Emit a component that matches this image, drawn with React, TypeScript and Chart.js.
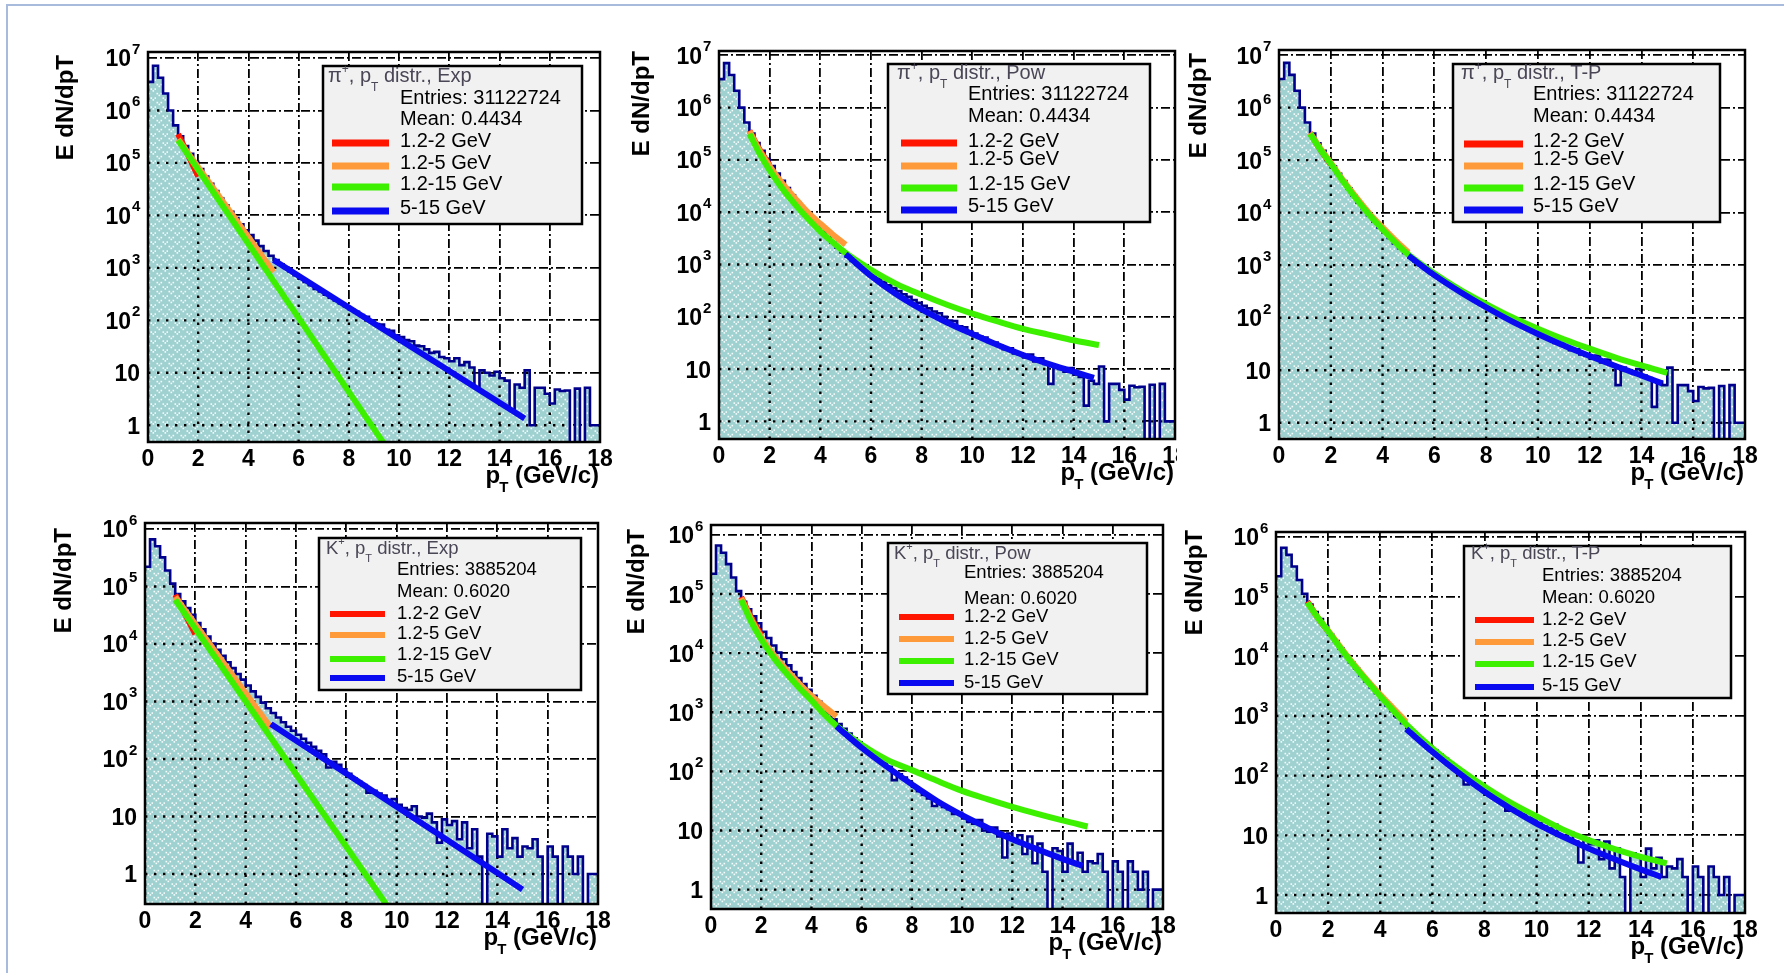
import { useEffect, useRef } from 'react';
import { Chart, registerables } from 'chart.js';

Chart.register(...registerables);

const FONT = "'Liberation Sans', Arial, Helvetica, sans-serif";

// Histogram binning (GeV/c)
const BIN_WIDTH = 0.2;
const PT_MAX = 18;

// E dN/dpT per 0.2 GeV/c bin, pi+ sample (0 = empty bin)
const PION_COUNTS = [
  3.5e6, 7.1e6, 4.2e6, 2.1e6, 1.0e6, 5.2e5, 3.2e5, 2.1e5, 1.5e5, 1.05e5,
  7.6e4, 5.5e4, 4.0e4, 2.9e4, 2.1e4, 1.55e4, 1.17e4, 8.9e3, 6.8e3, 5.2e3,
  4.2e3, 3.3e3, 2.6e3, 2.1e3, 1.7e3, 1.41e3, 1.17e3, 1.0e3, 850, 725,
  630, 537, 468, 398, 355, 309, 269, 240, 209, 186,
  162, 145, 126, 117, 100, 85, 83, 66, 63, 52,
  48, 42, 40, 33, 32, 28, 24, 25, 20, 19,
  16.6, 19, 14, 16, 12.6, 5.2, 11.2, 10, 8.9, 10.5,
  7.9, 7.1, 2.0, 6.0, 5.2, 11.2, 1.0, 5.2, 5.2, 4.0,
  2.6, 4.8, 4.5, 4.6, 0, 5.0, 0, 5.2, 1.0, 1.0,
];

// E dN/dpT per 0.2 GeV/c bin, K+ sample (0 = empty bin)
const KAON_COUNTS = [
  2.2e5, 6.6e5, 5.0e5, 3.2e5, 1.9e5, 1.12e5, 7.4e4, 5.5e4, 4.2e4, 3.2e4,
  2.3e4, 1.8e4, 1.35e4, 1.02e4, 7.9e3, 6.2e3, 4.8e3, 3.8e3, 3.0e3, 2.4e3,
  1.9e3, 1.5e3, 1.2e3, 955, 760, 630, 525, 436, 363, 309,
  263, 224, 191, 162, 138, 120, 71, 89, 79, 66,
  55, 46, 40, 35, 26, 28, 25, 23, 19, 20,
  16, 14, 13, 15, 10, 9.5, 11.2, 7.9, 3.5, 8.9,
  7.1, 8.3, 4.0, 7.9, 2.8, 6.0, 2.0, 0, 5.0, 4.5,
  2.0, 6.0, 2.8, 4.2, 2.0, 3.0, 2.8, 4.0, 2.0, 0,
  3.0, 2.0, 0, 3.0, 2.0, 1.0, 2.0, 0, 1.0, 1.0,
];

// Fit ranges, in legend order
const FIT_RANGES = ['1.2-2 GeV', '1.2-5 GeV', '1.2-15 GeV', '5-15 GeV'];
const FIT_COLORS = ['#ff1500', '#ff9a3a', '#3cf000', '#0a0af0'];

// Abscissae of the tabulated fit functions
const X_EXP = [[1.2, 2.0], [1.2, 5.0], [1.2, 15.0], [5.0, 15.0]];
const X_SHORT = [1.2, 1.6, 2.0];
const X_MID = [1.2, 1.6, 2.0, 2.5, 3.0, 3.5, 4.0, 4.5, 5.0];
const X_FULL = [1.2, 1.6, 2.0, 2.5, 3.0, 3.5, 4.0, 4.5, 5.0, 6, 7, 8, 9, 10, 11, 12, 13, 14, 15];
const X_HIGH = [5, 6, 7, 8, 9, 10, 11, 12, 13, 14, 14.8];
const X_CURVE = [X_SHORT, X_MID, X_FULL, X_HIGH];

// pi+ fits
const PI_EXP = [[3.55e5, 5.5e4], [2.82e5, 832], [2.69e5, 5.0e-5], [1413, 1.35]];
const PI_POW = [
  [3.63e5, 1.58e5, 7.94e4],
  [3.55e5, 1.51e5, 7.59e4, 3.55e4, 1.86e4, 1.0e4, 6026, 3715, 2399],
  [3.16e5, 1.32e5, 6.31e4, 2.82e4, 1.41e4, 7586, 4266, 2630, 1660, 794, 427, 263, 170, 115, 81.3, 58.9, 45.7, 35.5, 28.8],
  [1585, 603, 269, 138, 77.6, 46.8, 28.8, 18.6, 12.6, 8.91, 6.76],
];
const PI_TP = [
  [3.31e5, 1.58e5, 8.32e4],
  [3.31e5, 1.66e5, 8.91e4, 3.98e4, 1.91e4, 9550, 5248, 2951, 1738],
  [3.16e5, 1.58e5, 8.51e4, 3.8e4, 1.78e4, 8913, 4786, 2692, 1585, 692, 339, 182, 102, 61.7, 38.9, 25.7, 17.4, 12.3, 8.91],
  [1514, 646, 309, 158, 85.1, 49.0, 29.5, 18.6, 12.0, 7.94, 5.62],
];

// K+ fits
const K_EXP = [[7.24e4, 1.48e4], [6.61e4, 347], [5.89e4, 1.12e-4], [407, 0.537]];
const K_POW = [
  [8.91e4, 3.98e4, 2.0e4],
  [8.51e4, 3.72e4, 1.86e4, 9333, 5248, 3090, 1905, 1259, 851],
  [7.94e4, 3.39e4, 1.7e4, 8318, 4571, 2630, 1585, 933, 589, 282, 158, 105, 69.2, 46.8, 33.9, 25.1, 19.1, 14.8, 11.7],
  [575, 251, 120, 60.3, 31.6, 18.2, 11.2, 7.08, 4.79, 3.31, 2.51],
];
const K_TP = [
  [8.32e4, 4.47e4, 2.63e4],
  [7.94e4, 4.47e4, 2.69e4, 1.38e4, 7244, 3981, 2291, 1349, 794],
  [7.94e4, 4.47e4, 2.63e4, 1.32e4, 6918, 3802, 2138, 1230, 724, 288, 132, 66.1, 35.5, 20.9, 12.6, 8.32, 5.89, 4.37, 3.39],
  [603, 251, 112, 53.7, 28.2, 15.8, 9.55, 6.03, 3.98, 2.69, 2.0],
];

const PION_STATS = ['Entries: 31122724', 'Mean: 0.4434'];
const KAON_STATS = ['Entries: 3885204', 'Mean: 0.6020'];

type Panel = {
  particle: string;
  fitName: string;
  counts: number[];
  stats: string[];
  fitX: number[][];
  fitY: number[][];
  topDecade: number;
  yRange: [number, number];
  plot: [number, number, number, number];
  padRight: number;
  yTitle: [number, number];
  box: [number, number, number, number];
  titlePos: [number, number];
  statX: number;
  statY: [number, number];
  lineX: [number, number];
  rowLineY: number[];
  rowTextY: number[];
  font: number;
  legendLine: number;
};

const PANELS: Panel[] = [
  {
    particle: 'π', fitName: 'Exp', counts: PION_COUNTS, stats: PION_STATS, fitX: X_EXP, fitY: PI_EXP,
    topDecade: 7, yRange: [0.48, 1.3e7], plot: [148, 52, 600, 442], padRight: 14, yTitle: [66, 55],
    box: [323, 66, 582, 224], titlePos: [5, 9], statX: 77, statY: [31, 52], lineX: [9, 66],
    rowLineY: [77, 100, 121, 145], rowTextY: [74, 96, 117, 141], font: 20, legendLine: 7,
  },
  {
    particle: 'π', fitName: 'Pow', counts: PION_COUNTS, stats: PION_STATS, fitX: X_CURVE, fitY: PI_POW,
    topDecade: 7, yRange: [0.46, 1.21e7], plot: [719, 51, 1175, 439], padRight: 2, yTitle: [642, 51],
    box: [888, 64, 1150, 222], titlePos: [9, 8], statX: 80, statY: [29, 51], lineX: [13, 69],
    rowLineY: [79, 102, 124, 146], rowTextY: [76, 94, 119, 141], font: 20, legendLine: 7,
  },
  {
    particle: 'π', fitName: 'T-P', counts: PION_COUNTS, stats: PION_STATS, fitX: X_CURVE, fitY: PI_TP,
    topDecade: 7, yRange: [0.49, 1.25e7], plot: [1279, 50, 1745, 439], padRight: 14, yTitle: [1199, 53],
    box: [1453, 64, 1720, 222], titlePos: [8, 8], statX: 80, statY: [29, 51], lineX: [11, 70],
    rowLineY: [80, 102, 124, 146], rowTextY: [76, 94, 119, 141], font: 20, legendLine: 7,
  },
  {
    particle: 'K', fitName: 'Exp', counts: KAON_COUNTS, stats: KAON_STATS, fitX: X_EXP, fitY: K_EXP,
    topDecade: 6, yRange: [0.33, 1.27e6], plot: [145, 523, 598, 904], padRight: 14, yTitle: [64, 528],
    box: [319, 538, 581, 690], titlePos: [7, 9], statX: 78, statY: [30, 52], lineX: [11, 66],
    rowLineY: [76, 97, 121, 140], rowTextY: [74, 94, 115, 137], font: 18.5, legendLine: 6,
  },
  {
    particle: 'K', fitName: 'Pow', counts: KAON_COUNTS, stats: KAON_STATS, fitX: X_CURVE, fitY: K_POW,
    topDecade: 6, yRange: [0.47, 1.47e6], plot: [711, 525, 1163, 909], padRight: 14, yTitle: [637, 529],
    box: [888, 543, 1147, 694], titlePos: [6, 9], statX: 76, statY: [28, 54], lineX: [11, 66],
    rowLineY: [74, 96, 118, 140], rowTextY: [72, 94, 115, 138], font: 18.5, legendLine: 6,
  },
  {
    particle: 'K', fitName: 'T-P', counts: KAON_COUNTS, stats: KAON_STATS, fitX: X_CURVE, fitY: K_TP,
    topDecade: 6, yRange: [0.5, 1.21e6], plot: [1276, 532, 1745, 913], padRight: 14, yTitle: [1195, 530],
    box: [1464, 546, 1731, 698], titlePos: [7, 6], statX: 78, statY: [28, 50], lineX: [11, 70],
    rowLineY: [74, 96, 118, 141], rowTextY: [72, 93, 114, 138], font: 18.5, legendLine: 6,
  },
];

const AXIS_W = 100;
const PAD_TOP = 14;
const AXIS_H = 60;
const HIST_LINE = '#00008c';
const GRID_DASH = [9, 3, 2, 3];

type Part = { t: string; size: number; bold?: boolean; dy?: number; dx?: number };

function drawParts(ctx: CanvasRenderingContext2D, parts: Part[], x: number, y: number, align: 'left' | 'right', color: string) {
  const fontOf = (p: Part) => `${p.bold ? 'bold ' : ''}${p.size}px ${FONT}`;
  let width = 0;
  parts.forEach((p) => {
    ctx.font = fontOf(p);
    width += ctx.measureText(p.t).width + (p.dx || 0);
  });
  let cx = align === 'right' ? x - width : x;
  ctx.fillStyle = color;
  ctx.textAlign = 'left';
  ctx.textBaseline = 'alphabetic';
  parts.forEach((p) => {
    ctx.font = fontOf(p);
    cx += p.dx || 0;
    ctx.fillText(p.t, cx, y + (p.dy || 0));
    cx += ctx.measureText(p.t).width;
  });
}

// Teal fill with a white dotted hatch
function makeFillPattern(ctx: CanvasRenderingContext2D) {
  const tile = document.createElement('canvas');
  tile.width = 12;
  tile.height = 9;
  const t = tile.getContext('2d')!;
  t.fillStyle = '#a0d1d1';
  t.fillRect(0, 0, 12, 9);
  t.fillStyle = 'rgba(255,255,255,0.9)';
  const dots = [[0.5, 0.8], [2.5, 2.6], [4.5, 0.8], [6.5, 5.3], [8.5, 7.1], [10.5, 5.3]];
  dots.forEach(([dx, dy]) => t.fillRect(dx, dy, 1.6, 1.6));
  return ctx.createPattern(tile, 'repeat');
}

function makeDecor(p: Panel, ox: number, oy: number) {
  return {
    id: 'rootDecor',
    afterDatasetDraw(chart: any, args: any) {
      if (args.index !== 0) return;
      // grid seen through the hatched histogram body
      const { ctx, chartArea: a, scales } = chart;
      const xs = scales.x;
      const ys = scales.y;
      ctx.save();
      ctx.beginPath();
      ctx.rect(a.left, a.top, a.right - a.left, a.bottom - a.top);
      ctx.clip();
      ctx.beginPath();
      ctx.moveTo(xs.getPixelForValue(0), a.bottom);
      p.counts.forEach((c, i) => {
        const py = c > 0 ? ys.getPixelForValue(c) : a.bottom + 4;
        ctx.lineTo(xs.getPixelForValue(i * BIN_WIDTH), py);
        ctx.lineTo(xs.getPixelForValue((i + 1) * BIN_WIDTH), py);
      });
      ctx.lineTo(xs.getPixelForValue(PT_MAX), a.bottom);
      ctx.closePath();
      ctx.clip();
      ctx.strokeStyle = '#000';
      ctx.lineWidth = 2.4;
      ctx.setLineDash([2.4, 6.6]);
      ctx.beginPath();
      xs.ticks.forEach((t: any) => {
        const px = xs.getPixelForValue(t.value);
        ctx.moveTo(px, a.bottom);
        ctx.lineTo(px, a.top);
      });
      ys.ticks.forEach((t: any) => {
        const py = ys.getPixelForValue(t.value);
        ctx.moveTo(a.left, py);
        ctx.lineTo(a.right, py);
      });
      ctx.stroke();
      ctx.restore();
    },
    afterDraw(chart: any) {
      const { ctx, chartArea: a, scales } = chart;
      const xs = scales.x;
      const ys = scales.y;
      ctx.save();

      // frame
      ctx.setLineDash([]);
      ctx.strokeStyle = '#000';
      ctx.lineWidth = 2.5;
      ctx.strokeRect(a.left, a.top, a.right - a.left, a.bottom - a.top);

      // y tick labels
      ctx.fillStyle = '#000';
      ctx.textBaseline = 'alphabetic';
      ys.ticks.forEach((t: any) => {
        const py = ys.getPixelForValue(t.value);
        const k = Math.round(Math.log10(t.value));
        ctx.font = `bold 23px ${FONT}`;
        ctx.textAlign = 'right';
        if (k < 2) {
          ctx.fillText(k === 0 ? '1' : '10', a.left - 8, py + 8.5);
        } else {
          ctx.fillText('10', a.left - 17, py + 8.5);
          ctx.font = `bold 15px ${FONT}`;
          ctx.textAlign = 'left';
          ctx.fillText(String(k), a.left - 16, py - 4);
        }
      });

      // x tick labels
      ctx.font = `bold 23px ${FONT}`;
      ctx.textAlign = 'center';
      xs.ticks.forEach((t: any) => {
        ctx.fillText(String(t.value), xs.getPixelForValue(t.value), a.bottom + 23.5);
      });

      // axis titles
      drawParts(ctx, [
        { t: 'p', size: 24, bold: true },
        { t: 'T', size: 15, bold: true, dy: 9, dx: -1 },
        { t: ' (GeV/c)', size: 24, bold: true },
      ], a.right - 1, a.bottom + 41, 'right', '#000');

      ctx.save();
      ctx.translate(p.yTitle[0] - ox, p.yTitle[1] - oy);
      ctx.rotate(-Math.PI / 2);
      ctx.font = `bold 24px ${FONT}`;
      ctx.textAlign = 'right';
      ctx.textBaseline = 'middle';
      ctx.fillStyle = '#000';
      ctx.fillText('E dN/dpT', 0, 0);
      ctx.restore();

      // statistics / legend box
      const f = p.font;
      const bl = p.box[0] - ox;
      const bt = p.box[1] - oy;
      const bw = p.box[2] - p.box[0];
      const bh = p.box[3] - p.box[1];
      ctx.fillStyle = '#f1f1f1';
      ctx.fillRect(bl, bt, bw, bh);
      ctx.strokeStyle = '#000';
      ctx.lineWidth = 2.5;
      ctx.strokeRect(bl, bt, bw, bh);

      const sub = Math.round(f * 0.62);
      drawParts(ctx, [
        { t: p.particle, size: f },
        { t: '+', size: sub, dy: -0.45 * f },
        { t: ', p', size: f },
        { t: 'T', size: sub, dy: 0.45 * f },
        { t: ' distr., ' + p.fitName, size: f },
      ], bl + p.titlePos[0], bt + p.titlePos[1] + 0.36 * f, 'left', '#4a4656');

      ctx.font = `${f}px ${FONT}`;
      ctx.fillStyle = '#000';
      ctx.textAlign = 'left';
      ctx.textBaseline = 'alphabetic';
      p.stats.forEach((s, i) => ctx.fillText(s, bl + p.statX, bt + p.statY[i] + 0.36 * f));

      FIT_RANGES.forEach((label, k) => {
        ctx.strokeStyle = FIT_COLORS[k];
        ctx.lineWidth = p.legendLine;
        ctx.beginPath();
        ctx.moveTo(bl + p.lineX[0], bt + p.rowLineY[k]);
        ctx.lineTo(bl + p.lineX[1], bt + p.rowLineY[k]);
        ctx.stroke();
        ctx.fillStyle = '#000';
        ctx.fillText(label, bl + p.statX, bt + p.rowTextY[k] + 0.36 * f);
      });

      ctx.restore();
    },
  };
}

function SpectrumPanel({ p }: { p: Panel }) {
  const ref = useRef<HTMLCanvasElement>(null);
  const ox = p.plot[0] - AXIS_W;
  const oy = p.plot[1] - PAD_TOP;
  const w = p.plot[2] - p.plot[0] + AXIS_W + p.padRight;
  const h = p.plot[3] - p.plot[1] + PAD_TOP + AXIS_H;

  useEffect(() => {
    const canvas = ref.current!;
    const pattern = makeFillPattern(canvas.getContext('2d')!);
    const floor = p.yRange[0] * 0.1;
    const steps = p.counts.map((c, i) => ({ x: i * BIN_WIDTH, y: c > 0 ? c : floor }));
    steps.push({ x: PT_MAX, y: steps[steps.length - 1].y });
    const decades = Array.from({ length: p.topDecade + 1 }, (_, k) => Math.pow(10, k));

    const fits = p.fitY.map((ys, k) => ({
      data: p.fitX[k].map((x, j) => ({ x, y: ys[j] })),
      borderColor: FIT_COLORS[k],
      borderWidth: 6,
      pointRadius: 0,
      fill: false,
      cubicInterpolationMode: 'monotone' as const,
      order: 4 - k,
      clip: 0,
    }));

    const chart = new Chart(canvas, {
      type: 'line',
      data: {
        datasets: [
          {
            data: steps,
            stepped: true,
            fill: 'start',
            backgroundColor: pattern as any,
            borderColor: 'rgba(0,0,0,0)',
            borderWidth: 0,
            pointRadius: 0,
            order: 20,
            clip: 0,
          },
          {
            data: steps,
            stepped: true,
            fill: false,
            borderColor: HIST_LINE,
            borderWidth: 2.6,
            pointRadius: 0,
            order: 10,
            clip: 0,
          },
          ...fits,
        ] as any,
      },
      options: {
        responsive: false,
        maintainAspectRatio: false,
        animation: false,
        devicePixelRatio: 1,
        events: [],
        layout: { autoPadding: false, padding: { left: 0, top: PAD_TOP, right: p.padRight, bottom: 0 } },
        plugins: { legend: { display: false }, tooltip: { enabled: false } },
        scales: {
          x: {
            type: 'linear',
            min: 0,
            max: PT_MAX,
            ticks: { display: false, stepSize: 2 },
            grid: { color: '#000', lineWidth: 1.8, drawTicks: false },
            border: { display: false, dash: GRID_DASH },
            afterFit: (s: any) => { s.height = AXIS_H; },
          },
          y: {
            type: 'logarithmic',
            min: p.yRange[0],
            max: p.yRange[1],
            ticks: { display: false },
            afterBuildTicks: (s: any) => { s.ticks = decades.map((v) => ({ value: v })); },
            grid: { color: '#000', lineWidth: 1.8, drawTicks: false },
            border: { display: false, dash: GRID_DASH },
            afterFit: (s: any) => { s.width = AXIS_W; },
          },
        },
      } as any,
      plugins: [makeDecor(p, ox, oy)],
    });
    return () => chart.destroy();
  }, []);

  return (
    <canvas
      ref={ref}
      width={w}
      height={h}
      style={{ position: 'absolute', left: ox, top: oy, width: w, height: h }}
    />
  );
}

export default function App() {
  return (
    <div style={{ position: 'absolute', left: 0, top: 0, width: 1784, height: 973, overflow: 'hidden', background: '#fff' }}>
      <div
        style={{
          position: 'absolute', left: 6, top: 4, width: 1800, height: 1000,
          borderTop: '2px solid #a8bbdc', borderLeft: '2px solid #a8bbdc',
        }}
      />
      {PANELS.map((p, i) => (
        <SpectrumPanel key={i} p={p} />
      ))}
    </div>
  );
}
